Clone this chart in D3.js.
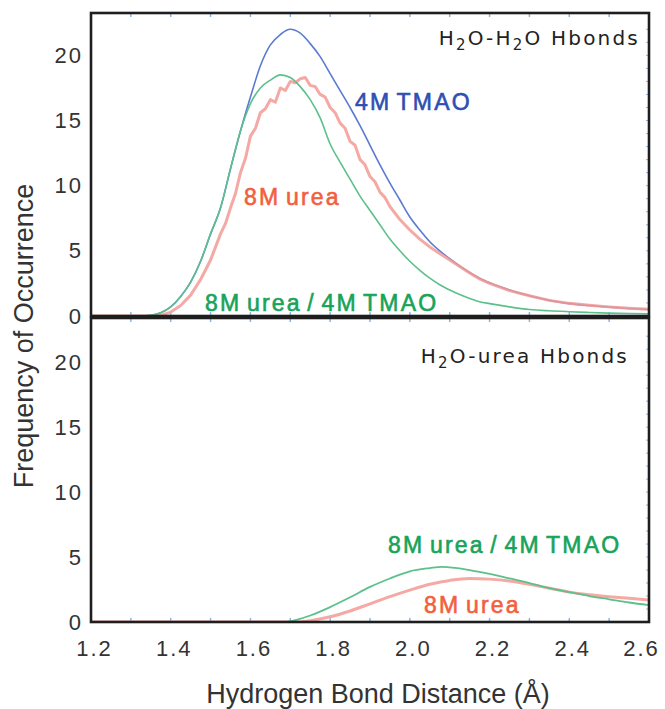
<!DOCTYPE html>
<html>
<head>
<meta charset="utf-8">
<script src="https://cdn.jsdelivr.net/npm/d3@7"></script>
<style>
  body { margin: 0; background: #fff; }
  svg { display: block; font-family: "Liberation Sans", Arial, sans-serif; }
</style>
</head>
<body>
<div id="chart"></div>
<script>
// ---- data ----
// top panel: H2O-H2O Hbonds
const distTop = [1.20, 1.30, 1.325, 1.35, 1.375, 1.40, 1.425, 1.45, 1.475, 1.50, 1.525, 1.55, 1.575, 1.60, 1.625, 1.65, 1.675, 1.70,
    1.725, 1.75, 1.775, 1.80, 1.825, 1.85, 1.875, 1.90, 1.925, 1.95, 1.975, 2.00, 2.025, 2.05, 2.075, 2.10, 2.125, 2.15,
    2.175, 2.20, 2.25, 2.30, 2.35, 2.40, 2.45, 2.50, 2.55, 2.60];
const tmaoTop = [0, 0, 0, 0.05, 0.25, 0.7, 1.5, 2.6, 4.2, 6.3, 8.3, 11.3, 14.2, 16.8, 19.2, 20.8, 21.6, 22.0,
    21.7, 20.9, 19.9, 18.6, 17.3, 16.0, 14.6, 13.1, 11.6, 10.2, 8.9, 7.6, 6.6, 5.7, 5.0, 4.4, 3.85, 3.35,
    2.9, 2.55, 2.0, 1.55, 1.2, 0.95, 0.8, 0.68, 0.58, 0.5];
const mixTop = [0, 0, 0, 0.05, 0.25, 0.7, 1.5, 2.6, 4.2, 6.3, 8.3, 11.3, 14.2, 16.3, 17.5, 18.1, 18.5, 18.3,
    17.6, 16.6, 15.2, 13.2, 11.8, 10.5, 9.2, 8.1, 7.0, 5.9, 5.0, 4.2, 3.5, 2.9, 2.4, 2.0, 1.65, 1.35,
    1.1, 0.95, 0.7, 0.5, 0.4, 0.33, 0.27, 0.22, 0.19, 0.17];
const ureaDistTop = [1.20, 1.35, 1.375, 1.40, 1.425, 1.45, 1.475, 1.50, 1.525, 1.5375, 1.55, 1.5625, 1.575, 1.5875, 1.60,
    1.6125, 1.625, 1.6375, 1.65, 1.6625, 1.675, 1.6875, 1.70, 1.7125, 1.725, 1.7375, 1.75, 1.7625, 1.775, 1.7875,
    1.80, 1.8125, 1.825, 1.8375, 1.85, 1.8625, 1.875, 1.8875, 1.90, 1.9125, 1.925, 1.9375, 1.95, 1.975, 2.00,
    2.025, 2.05, 2.075, 2.10, 2.125, 2.15, 2.175, 2.20, 2.25, 2.30, 2.35, 2.40, 2.45, 2.50, 2.55, 2.60];
const ureaTop = [0, 0, 0.05, 0.3, 0.8, 1.6, 2.8, 4.3, 6.3, 7.1, 8.3, 9.4, 11.0, 12.1, 13.8,
    14.4, 15.6, 15.9, 16.6, 16.4, 17.5, 17.3, 18.0, 17.9, 18.2, 18.3, 17.7, 17.6, 17.0, 16.8,
    16.0, 15.6, 14.8, 14.4, 13.4, 13.1, 12.0, 11.6, 10.7, 10.3, 9.5, 9.1, 8.4, 7.4, 6.6,
    5.9, 5.3, 4.8, 4.3, 3.8, 3.3, 2.85, 2.5, 1.95, 1.55, 1.2, 0.97, 0.82, 0.7, 0.6, 0.52];

// bottom panel: H2O-urea Hbonds
const distBottom = [1.20, 1.68, 1.70, 1.72, 1.75, 1.80, 1.85, 1.90, 1.95, 2.00, 2.05, 2.08, 2.10, 2.15, 2.20,
    2.25, 2.30, 2.35, 2.40, 2.45, 2.50, 2.55, 2.60];
const mixBottom = [0, 0, 0.05, 0.2, 0.5, 1.15, 1.9, 2.7, 3.35, 3.9, 4.15, 4.25, 4.2, 4.0, 3.7,
    3.35, 3.0, 2.6, 2.3, 2.0, 1.75, 1.5, 1.3];
const ureaBottom = [0, 0, 0, 0, 0.1, 0.4, 0.85, 1.4, 1.95, 2.45, 2.9, 3.1, 3.2, 3.35, 3.3,
    3.15, 2.9, 2.6, 2.3, 2.1, 1.95, 1.82, 1.7];

const xTicks = [1.2, 1.4, 1.6, 1.8, 2.0, 2.2, 2.4, 2.6];
const yTicks = [0, 5, 10, 15, 20];

// ---- layout ----
const width = 665, height = 709;
const colors = { tmao: "#5b7ad2", urea: "#f39a94", mix: "#5cc08c" };
const labelColors = { tmao: "#2d4fb4", urea: "#f2603e", mix: "#18a35a" };

const svg = d3.select("#chart").append("svg")
    .attr("width", width)
    .attr("height", height);

const x = d3.scaleLinear().domain([1.2, 2.6]).range([91, 649]);

const panels = [
    {
        id: "top",
        y: d3.scaleLinear().domain([0, 23.25]).range([316, 13]),
        title: [["H", 0], ["2", 1], ["O-H", 0], ["2", 1], ["O Hbonds", 0]],
        titlePos: [640, 45],
        series: [
            { key: "tmao", xs: distTop, ys: tmaoTop, curve: d3.curveMonotoneX, w: 1.6 },
            { key: "urea", xs: ureaDistTop, ys: ureaTop, curve: d3.curveLinear, w: 3, op: 0.85 },
            { key: "mix", xs: distTop, ys: mixTop, curve: d3.curveMonotoneX, w: 1.6 }
        ],
        labels: [
            { key: "tmao", text: "4M TMAO", x: 355, y: 110 },
            { key: "urea", text: "8M urea", x: 244, y: 205 },
            { key: "mix", text: "8M urea / 4M TMAO", x: 205, y: 311 }
        ]
    },
    {
        id: "bottom",
        y: d3.scaleLinear().domain([0, 23.4]).range([622, 318]),
        title: [["H", 0], ["2", 1], ["O-urea Hbonds", 0]],
        titlePos: [629, 363],
        series: [
            { key: "urea", xs: distBottom, ys: ureaBottom, curve: d3.curveMonotoneX, w: 3, op: 0.85 },
            { key: "mix", xs: distBottom, ys: mixBottom, curve: d3.curveMonotoneX, w: 1.8 }
        ],
        labels: [
            { key: "mix", text: "8M urea / 4M TMAO", x: 388, y: 553 },
            { key: "urea", text: "8M urea", x: 424, y: 613 }
        ]
    }
];

panels.forEach(p => {
    const y = p.y;
    const g = svg.append("g");
    const [x0, x1] = x.range();
    const [y1, y0] = y.range();

    g.append("clipPath").attr("id", "clip-" + p.id)
        .append("rect")
        .attr("x", x0).attr("y", y0)
        .attr("width", x1 - x0).attr("height", y1 - y0);

    // faint blue inner ticks
    const minor = d3.range(1.3, 2.6, 0.1);
    g.append("g").selectAll("line.mb")
        .data(minor).join("line")
        .attr("x1", d => x(d)).attr("x2", d => x(d))
        .attr("y1", y1 - 4).attr("y2", y1)
        .attr("stroke", "#8db5e2").attr("stroke-width", 1.5);
    g.append("g").selectAll("line.mt")
        .data(minor).join("line")
        .attr("x1", d => x(d)).attr("x2", d => x(d))
        .attr("y1", y0).attr("y2", y0 + 4)
        .attr("stroke", "#8db5e2").attr("stroke-width", 1.5);
    g.append("g").selectAll("line.mr")
        .data(d3.range(1, 23, 1)).join("line")
        .attr("x1", x1 - 3).attr("x2", x1)
        .attr("y1", d => y(d)).attr("y2", d => y(d))
        .attr("stroke", "#8db5e2").attr("stroke-width", 1);

    // curves
    const lines = g.append("g").attr("clip-path", `url(#clip-${p.id})`);
    p.series.forEach(s => {
        const line = d3.line()
            .x((d, i) => x(s.xs[i]))
            .y(d => y(d))
            .curve(s.curve);
        lines.append("path")
            .attr("d", line(s.ys))
            .attr("fill", "none")
            .attr("stroke", colors[s.key])
            .attr("stroke-width", s.w)
            .attr("stroke-opacity", s.op || 1)
            .attr("stroke-linejoin", "round");
    });

    // frame
    g.append("rect")
        .attr("x", x0).attr("y", y0)
        .attr("width", x1 - x0).attr("height", y1 - y0)
        .attr("fill", "none")
        .attr("stroke", "#1e1e1e")
        .attr("stroke-width", 2.6);

    // y axis
    const yAxis = g.append("g")
        .attr("transform", `translate(${x0},0)`)
        .call(d3.axisLeft(y).tickValues(yTicks).tickSize(0).tickPadding(8));
    yAxis.select(".domain").remove();
    yAxis.selectAll("text")
        .attr("fill", "#333")
        .style("font-size", "22px")
        .style("letter-spacing", "2px");

    // panel title with subscripts
    const t = g.append("text")
        .attr("x", p.titlePos[0]).attr("y", p.titlePos[1])
        .attr("text-anchor", "end")
        .attr("fill", "#222")
        .style("font-family", "'DejaVu Sans', sans-serif")
        .style("font-size", "20px")
        .style("letter-spacing", "2.2px");
    p.title.forEach(([s, sub], i) => {
        const prevSub = i > 0 && p.title[i - 1][1];
        t.append("tspan")
            .attr("dy", sub ? 5 : (prevSub ? -5 : 0))
            .style("font-size", sub ? "15px" : "20px")
            .text(s);
    });

    // series labels
    g.append("g").selectAll("text")
        .data(p.labels).join("text")
        .attr("x", d => d.x).attr("y", d => d.y)
        .attr("fill", d => labelColors[d.key])
        .attr("stroke", d => labelColors[d.key])
        .attr("stroke-width", 0.6)
        .style("font-size", "23px")
        .style("letter-spacing", "2.2px")
        .style("word-spacing", "-3px")
        .text(d => d.text);
});

// x axis on bottom panel
const xAxis = svg.append("g")
    .attr("transform", `translate(0,${panels[1].y.range()[0]})`)
    .call(d3.axisBottom(x).tickValues(xTicks).tickSize(0).tickPadding(18).tickFormat(d3.format(".1f")));
xAxis.select(".domain").remove();
xAxis.selectAll("text")
    .attr("fill", "#333")
    .attr("dx", d => d === 2.6 ? -8 : 3)
    .style("font-size", "22px")
    .style("letter-spacing", "2px");

// axis titles
svg.append("text")
    .attr("transform", "translate(33,336) rotate(-90)")
    .attr("text-anchor", "middle")
    .attr("fill", "#333")
    .style("font-size", "27px")
    .text("Frequency of Occurrence");

svg.append("text")
    .attr("x", 378).attr("y", 703)
    .attr("text-anchor", "middle")
    .attr("fill", "#333")
    .style("font-size", "27px")
    .text("Hydrogen Bond Distance (Å)");
</script>
</body>
</html>
